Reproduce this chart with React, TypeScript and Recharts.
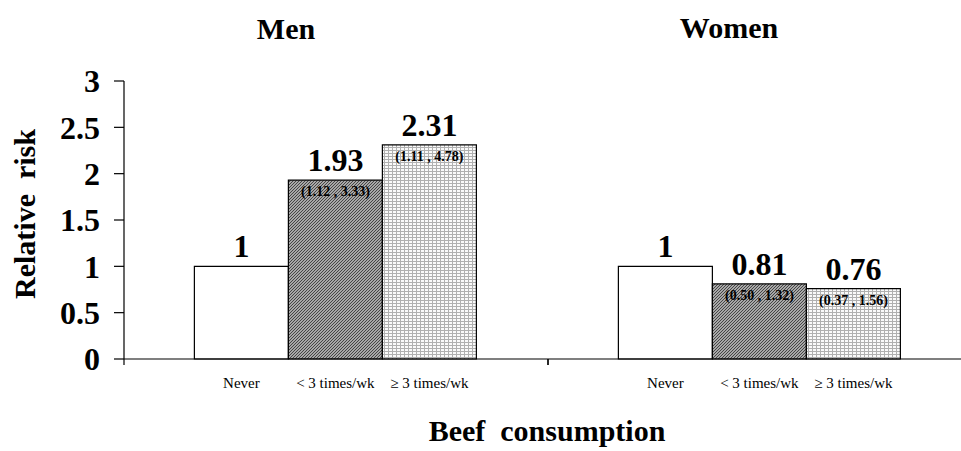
import React from 'react'
import { BarChart, Bar, XAxis, YAxis, LabelList } from 'recharts'

const groups = ['Men', 'Women']
const neverRisk = [1, 1]
const lessThan3Risk = [1.93, 0.81]
const atLeast3Risk = [2.31, 0.76]
const lessThan3CI = ['(1.12 , 3.33)', '(0.50 , 1.32)']
const atLeast3CI = ['(1.11 , 4.78)', '(0.37 , 1.56)']
const barNames = ['Never', '< 3 times/wk', '≥ 3 times/wk']
const yTicks = [0, 0.5, 1, 1.5, 2, 2.5, 3]

const font = '"Liberation Serif", "Times New Roman", serif'

const data = groups.map((g, i) => ({
  group: g,
  never: neverRisk[i],
  lt3: lessThan3Risk[i],
  ge3: atLeast3Risk[i],
  lt3ci: lessThan3CI[i],
  ge3ci: atLeast3CI[i],
}))

// small category name under each bar
const subLabel = (name: string) => (props: any) => {
  const { x, y, width, height } = props
  return (
    <text
      x={x + width / 2}
      y={y + height + 29}
      textAnchor="middle"
      fontFamily={font}
      fontSize={15}
      fill="#000"
      style={{ whiteSpace: 'pre' }}
    >
      {name}
    </text>
  )
}

// the x axis ticks sit on the group boundaries, not the group centres
function EdgeTick(props: any) {
  const { x, y, payload } = props
  const half = payload?.offset ?? 0
  return (
    <g>
      <line x1={x - half} x2={x - half} y1={y} y2={y + 6} stroke="#000" strokeWidth={1.2} />
      <line x1={x + half} x2={x + half} y1={y} y2={y + 6} stroke="#000" strokeWidth={1.2} />
    </g>
  )
}

const valueLabelStyle = { fontFamily: font, fontSize: 32, fontWeight: 700, fill: '#000' }
const ciLabelStyle = { fontFamily: font, fontSize: 14, fontWeight: 700, fill: '#000', whiteSpace: 'pre' }

export default function App() {
  return (
    <div
      style={{
        position: 'absolute',
        left: 0,
        top: 0,
        width: 961,
        height: 451,
        overflow: 'hidden',
        background: '#fff',
      }}
    >
      <BarChart
        width={980}
        height={451}
        data={data}
        margin={{ top: 81, right: 8, bottom: 62, left: 0 }}
        barCategoryGap="16.6%"
        barGap={0}
      >
        <defs>
          <pattern id="darkStipple" width="3" height="3" patternUnits="userSpaceOnUse">
            <rect width="3" height="3" fill="#a8a8a8" />
            <path d="M0,3 L3,0 M-1,1 L1,-1 M2,4 L4,2" stroke="#3a3a3a" strokeWidth="0.9" />
          </pattern>
          <pattern id="lightGrid" width="4" height="3" patternUnits="userSpaceOnUse">
            <rect width="4" height="3" fill="#fafafa" />
            <path d="M0,0.5 L4,0.5 M0.5,0 L0.5,3" stroke="#b0b0b0" strokeWidth="1" />
          </pattern>
        </defs>

        <XAxis
          dataKey="group"
          height={30}
          tickSize={0}
          tickMargin={0}
          tickLine={false}
          tick={<EdgeTick />}
          axisLine={{ stroke: '#000', strokeWidth: 1.2 }}
        />
        <YAxis
          domain={[0, 3]}
          ticks={yTicks}
          width={124}
          tickSize={10}
          tickMargin={14}
          axisLine={{ stroke: '#000', strokeWidth: 1.2 }}
          tickLine={{ stroke: '#000', strokeWidth: 1.2 }}
          tick={{ fontFamily: font, fontSize: 32, fontWeight: 700, fill: '#000' }}
        />

        <Bar dataKey="never" fill="#fff" stroke="#000" strokeWidth={1.2} isAnimationActive={false}>
          <LabelList dataKey="never" position="top" offset={9} style={valueLabelStyle} />
          <LabelList dataKey="never" content={subLabel(barNames[0])} />
        </Bar>
        <Bar dataKey="lt3" fill="url(#darkStipple)" stroke="#000" strokeWidth={1.2} isAnimationActive={false}>
          <LabelList dataKey="lt3" position="top" offset={9} style={valueLabelStyle} />
          <LabelList dataKey="lt3ci" position="insideTop" offset={6} style={ciLabelStyle} />
          <LabelList dataKey="lt3" content={subLabel(barNames[1])} />
        </Bar>
        <Bar dataKey="ge3" fill="url(#lightGrid)" stroke="#000" strokeWidth={1.2} isAnimationActive={false}>
          <LabelList dataKey="ge3" position="top" offset={9} style={valueLabelStyle} />
          <LabelList dataKey="ge3ci" position="insideTop" offset={6} style={ciLabelStyle} />
          <LabelList dataKey="ge3" content={subLabel(barNames[2])} />
        </Bar>
      </BarChart>

      <svg
        width={961}
        height={451}
        style={{ position: 'absolute', left: 0, top: 0, pointerEvents: 'none' }}
      >
        <text x={286} y={39} textAnchor="middle" fontFamily={font} fontSize={30} fontWeight={700}>
          Men
        </text>
        <text x={729} y={38} textAnchor="middle" fontFamily={font} fontSize={30} fontWeight={700}>
          Women
        </text>
        <text x={547} y={441} textAnchor="middle" fontFamily={font} fontSize={30} fontWeight={700} style={{ whiteSpace: 'pre' }}>
          {'Beef  consumption'}
        </text>
        <text
          x={35}
          y={214}
          textAnchor="middle"
          fontFamily={font}
          fontSize={30}
          fontWeight={700}
          transform="rotate(-90 35 214)"
          style={{ whiteSpace: 'pre' }}
        >
          {'Relative  risk'}
        </text>
      </svg>
    </div>
  )
}
